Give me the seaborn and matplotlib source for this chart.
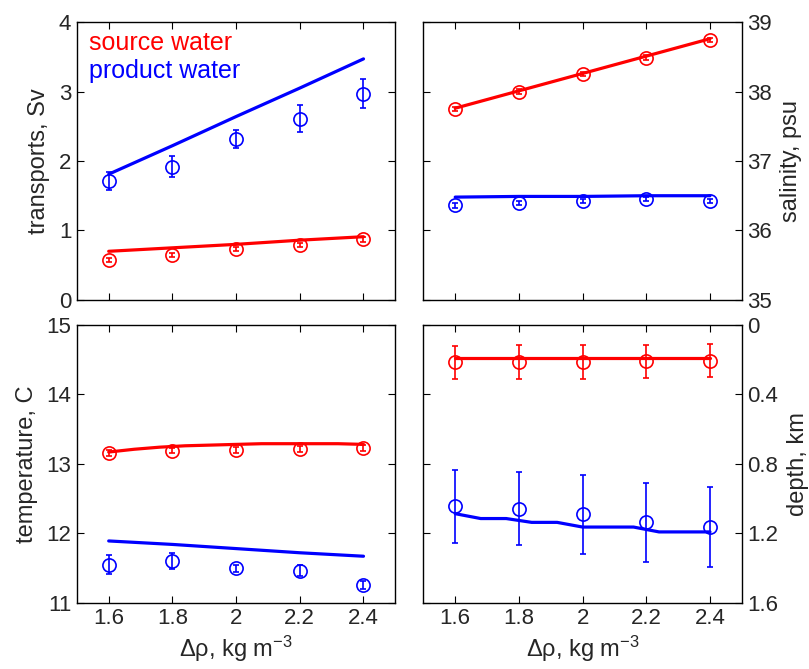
import numpy as np
import matplotlib
matplotlib.use("Agg")
import matplotlib.pyplot as plt
from matplotlib.ticker import FormatStrFormatter, FixedLocator
import seaborn as sns

# density difference (x) for the sampled points and the model curves
drho = [1.6, 1.8, 2.0, 2.2, 2.4]
drho_fine = [1.6, 1.68, 1.76, 1.84, 1.92, 2.0, 2.08, 2.16, 2.24, 2.32, 2.4]

# transports, Sv
src_tr = [0.58, 0.65, 0.73, 0.79, 0.87]
src_tr_err = [0.03, 0.025, 0.025, 0.03, 0.03]
prod_tr = [1.71, 1.92, 2.31, 2.61, 2.97]
prod_tr_err = [0.13, 0.15, 0.13, 0.19, 0.21]
src_tr_model = [0.70, 0.75, 0.80, 0.86, 0.91]
prod_tr_model = [1.81, 2.22, 2.64, 3.05, 3.47]

# salinity, psu
src_sal = [37.75, 38.00, 38.25, 38.49, 38.74]
src_sal_err = [0.03, 0.03, 0.03, 0.03, 0.03]
prod_sal = [36.36, 36.40, 36.42, 36.45, 36.43]
prod_sal_err = [0.03, 0.03, 0.03, 0.03, 0.03]
src_sal_model = [37.76, 38.01, 38.26, 38.51, 38.76]
prod_sal_model = [36.48, 36.49, 36.49, 36.50, 36.50]

# temperature, C
src_temp = [13.16, 13.19, 13.20, 13.21, 13.23]
src_temp_err = [0.04, 0.04, 0.04, 0.04, 0.04]
prod_temp = [11.55, 11.60, 11.50, 11.46, 11.26]
prod_temp_err = [0.14, 0.11, 0.05, 0.08, 0.06]
src_temp_model = [13.17, 13.21, 13.24, 13.26, 13.27, 13.28, 13.29, 13.29, 13.29, 13.29, 13.28]
prod_temp_model = [11.89, 11.84, 11.78, 11.72, 11.67]

# depth, km
src_depth = [0.216, 0.214, 0.212, 0.210, 0.205]
src_depth_err = [0.097, 0.097, 0.097, 0.097, 0.097]
prod_depth = [1.043, 1.058, 1.090, 1.137, 1.164]
prod_depth_err = [0.21, 0.21, 0.227, 0.226, 0.232]
src_depth_model = [0.188, 0.188, 0.188, 0.188, 0.188]
prod_depth_model = [1.087, 1.115, 1.115, 1.137, 1.137, 1.164, 1.164, 1.164, 1.192, 1.192, 1.192]

RED = '#ff0000'
BLUE = '#0000ff'

sns.set_theme(style="ticks", rc={'xtick.direction': 'in', 'ytick.direction': 'in'})
plt.rcParams['font.family'] = ['Liberation Sans', 'DejaVu Sans']
plt.rcParams['mathtext.fontset'] = 'custom'
plt.rcParams['mathtext.rm'] = 'Liberation Sans'
plt.rcParams['mathtext.it'] = 'Liberation Sans:italic'


def draw_panel(ax, pts, model_src, model_prod):
    (s, se), (p, pe) = pts
    xs, ys = model_src
    xp, yp = model_prod
    sns.lineplot(x=xs, y=ys, color=RED, lw=2.3, ax=ax)
    sns.lineplot(x=xp, y=yp, color=BLUE, lw=2.3, ax=ax)
    for vals, errs, c in [(s, se, RED), (p, pe, BLUE)]:
        ax.errorbar(drho, vals, yerr=errs, fmt='o', color=c, mfc='none', mec=c,
                    ms=9.5, mew=1.2, elinewidth=1.2, capsize=2.5, capthick=1.2)


fig, axes = plt.subplots(2, 2, figsize=(8.09, 6.69), dpi=100, sharex=True)
plt.subplots_adjust(left=0.095, right=0.917, top=0.967, bottom=0.099,
                    wspace=0.088, hspace=0.09)
ax_tr, ax_sal = axes[0]
ax_temp, ax_dep = axes[1]

draw_panel(ax_tr, [(src_tr, src_tr_err), (prod_tr, prod_tr_err)],
           (drho, src_tr_model), (drho, prod_tr_model))
draw_panel(ax_sal, [(src_sal, src_sal_err), (prod_sal, prod_sal_err)],
           (drho, src_sal_model), (drho, prod_sal_model))
draw_panel(ax_temp, [(src_temp, src_temp_err), (prod_temp, prod_temp_err)],
           (drho_fine, src_temp_model), (drho, prod_temp_model))
draw_panel(ax_dep, [(src_depth, src_depth_err), (prod_depth, prod_depth_err)],
           (drho, src_depth_model), (drho_fine, prod_depth_model))

ax_tr.set_ylim(0, 4)
ax_tr.set_yticks([0, 1, 2, 3, 4])
ax_sal.set_ylim(35, 39)
ax_sal.set_yticks([35, 36, 37, 38, 39])
ax_temp.set_ylim(11, 15)
ax_temp.set_yticks([11, 12, 13, 14, 15])
ax_dep.set_ylim(1.6, 0)
ax_dep.set_yticks([0, 0.4, 0.8, 1.2, 1.6])

ax_tr.set_ylabel('transports, Sv', fontsize=17, labelpad=6)
ax_temp.set_ylabel('temperature, C', fontsize=17, labelpad=6)
ax_sal.set_ylabel('salinity, psu', fontsize=17, labelpad=6)
ax_dep.set_ylabel('depth, km', fontsize=17, labelpad=6)

for ax in (ax_sal, ax_dep):
    ax.yaxis.set_label_position('right')
    ax.tick_params(axis='y', labelleft=False, labelright=True)

for ax in axes.flat:
    ax.set_xlim(1.5, 2.5)
    ax.xaxis.set_major_locator(FixedLocator(drho))
    ax.xaxis.set_major_formatter(FormatStrFormatter('%g'))
    ax.yaxis.set_major_formatter(FormatStrFormatter('%g'))
    ax.tick_params(which='both', top=True, right=True, left=True, bottom=True,
                   length=5, width=0.8, labelsize=16, pad=4, color='black')
    for sp in ax.spines.values():
        sp.set_linewidth(1.0)
        sp.set_color('black')

for ax in (ax_temp, ax_dep):
    ax.set_xlabel('Δρ, kg m$^{-3}$', fontsize=17, labelpad=3)

ax_tr.text(0.038, 0.925, 'source water', color=RED, fontsize=18,
           transform=ax_tr.transAxes, va='center', ha='left')
ax_tr.text(0.038, 0.823, 'product water', color=BLUE, fontsize=18,
           transform=ax_tr.transAxes, va='center', ha='left')

plt.savefig('out.png', dpi=100)
plt.close()
